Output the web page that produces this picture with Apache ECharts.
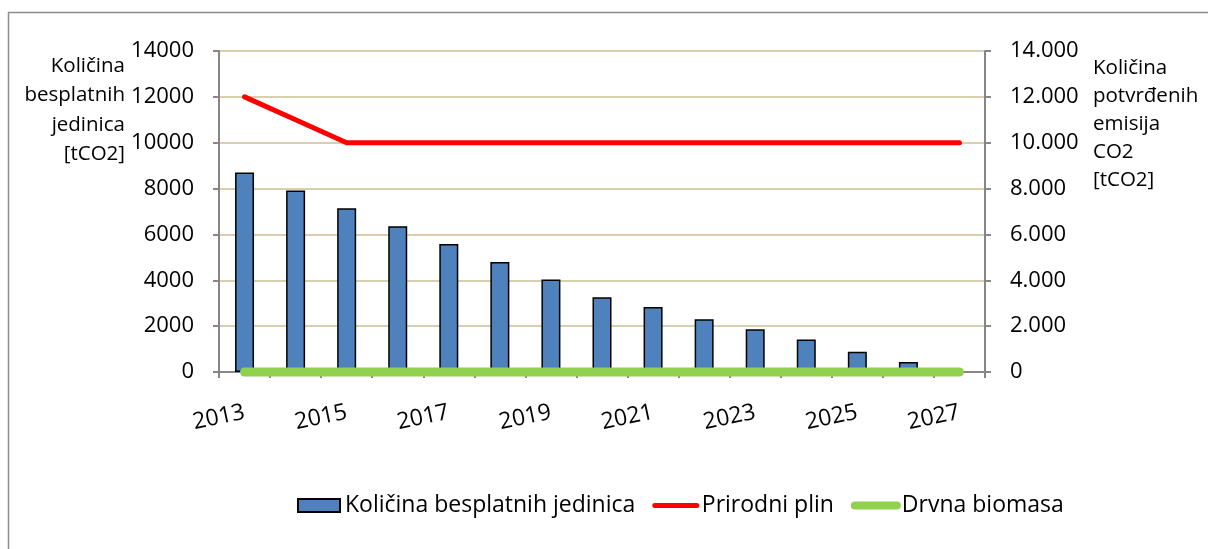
<!DOCTYPE html>
<html>
<head>
  <meta charset="UTF-8">
  <title>Količina besplatnih jedinica</title>
  <style type="text/css">
    html, body { margin: 0; padding: 0; background: #ffffff; }
    #chart { width: 1208px; height: 549px; }
  </style>
  <script src="https://cdn.jsdelivr.net/npm/echarts/dist/echarts.min.js"></script>
</head>
<body>
<div id="chart"></div>
<script type="text/javascript">
    // podaci ocitani sa slike
    var godine = ['2013', '2014', '2015', '2016', '2017', '2018', '2019', '2020',
                  '2021', '2022', '2023', '2024', '2025', '2026', '2027'];
    var besplatneJedinice = [8700, 7920, 7140, 6360, 5580, 4800, 4030, 3260,
                             2830, 2300, 1860, 1420, 880, 440, null];
    var prirodniPlin = [12000, 11000, 10000, 10000, 10000, 10000, 10000, 10000,
                        10000, 10000, 10000, 10000, 10000, 10000, 10000];
    var drvnaBiomasa = [0, 0, 0, 0, 0, 0, 0, 0, 0, 0, 0, 0, 0, 0, 0];
    var yTicks = { min: 0, max: 14000, interval: 2000 };

    var font = 'Open Sans';
    var axisGray = '#868686';
    var gridTan = '#d9cfb0';

    function tackaHiljade(v) {
        return String(v).replace(/\B(?=(\d{3})+(?!\d))/g, '.');
    }

    var myChart = echarts.init(document.getElementById('chart'));

    option = {
        backgroundColor: '#ffffff',
        animation: false,
        textStyle: { fontFamily: font, color: '#000' },
        graphic: [
            {   // okvir
                type: 'rect',
                shape: { x: 8.5, y: 12.5, width: 1400, height: 700 },
                style: { fill: null, stroke: '#8c8c8c', lineWidth: 1.5 }
            },
            {
                type: 'text',
                x: 125, y: 51,
                style: {
                    text: 'Količina\nbesplatnih\njedinica\n[tCO2]',
                    font: '20.5px "Open Sans"',
                    fill: '#000',
                    align: 'right',
                    lineHeight: 29.5
                }
            },
            {
                type: 'text',
                x: 1093, y: 54,
                style: {
                    text: 'Količina\npotvrđenih\nemisija\nCO2\n[tCO2]',
                    font: '20.5px "Open Sans"',
                    fill: '#000',
                    align: 'left',
                    lineHeight: 28
                }
            }
        ],
        grid: {
            left: 219,
            right: 223,
            top: 51,
            bottom: 177,
            containLabel: false
        },
        legend: {
            left: 292,
            top: 489,
            itemWidth: 42,
            itemHeight: 13,
            itemGap: 17,
            textStyle: { fontFamily: font, fontSize: 23, color: '#000' },
            data: [
                { name: 'Količina besplatnih jedinica', icon: 'rect' },
                {
                    name: 'Prirodni plin',
                    itemStyle: { opacity: 0 },
                    lineStyle: { color: '#ff0000', width: 5, cap: 'round' }
                },
                {
                    name: 'Drvna biomasa',
                    itemStyle: { opacity: 0 },
                    lineStyle: { color: '#92d050', width: 8, cap: 'round' }
                }
            ]
        },
        xAxis: {
            type: 'category',
            data: godine,
            boundaryGap: true,
            axisLine: { lineStyle: { color: axisGray, width: 2 } },
            axisTick: { show: true, interval: 0, length: 6, lineStyle: { color: axisGray, width: 2 } },
            axisLabel: {
                interval: 1,
                rotate: 12,
                margin: 40,
                fontFamily: font,
                fontSize: 23,
                color: '#000'
            },
            splitLine: { show: false }
        },
        yAxis: [
            {
                type: 'value',
                min: yTicks.min,
                max: yTicks.max,
                interval: yTicks.interval,
                position: 'left',
                axisLine: { show: true, lineStyle: { color: axisGray, width: 2 } },
                axisTick: { show: true, length: 6, lineStyle: { color: axisGray, width: 2 } },
                axisLabel: {
                    margin: 25, fontFamily: font, fontSize: 22, color: '#000',
                    formatter: function (v) { return String(v); }
                },
                splitLine: { show: true, lineStyle: { color: gridTan, width: 2 } }
            },
            {
                type: 'value',
                min: yTicks.min,
                max: yTicks.max,
                interval: yTicks.interval,
                position: 'right',
                axisLine: { show: true, lineStyle: { color: axisGray, width: 2 } },
                axisTick: { show: true, length: 6, lineStyle: { color: axisGray, width: 2 } },
                axisLabel: {
                    margin: 25, fontFamily: font, fontSize: 22, color: '#000',
                    formatter: function (v) { return tackaHiljade(v); }
                },
                splitLine: { show: false }
            }
        ],
        series: [
            {
                name: 'Količina besplatnih jedinica',
                type: 'bar',
                yAxisIndex: 0,
                barWidth: 19,
                itemStyle: { color: '#4f81bd', borderColor: '#000', borderWidth: 1.5 },
                data: besplatneJedinice
            },
            {
                name: 'Prirodni plin',
                type: 'line',
                yAxisIndex: 1,
                symbol: 'none',
                clip: false,
                lineStyle: { color: '#ff0000', width: 5, cap: 'round', join: 'round' },
                itemStyle: { color: '#ff0000' },
                data: prirodniPlin
            },
            {
                name: 'Drvna biomasa',
                type: 'line',
                yAxisIndex: 1,
                symbol: 'none',
                clip: false,
                lineStyle: { color: '#92d050', width: 9, cap: 'round', join: 'round' },
                itemStyle: { color: '#92d050' },
                data: drvnaBiomasa
            }
        ]
    };
    myChart.setOption(option);
</script>
</body>
</html>
